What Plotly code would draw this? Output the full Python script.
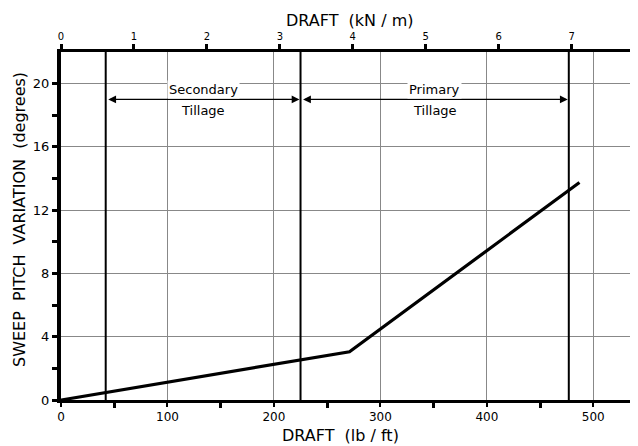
import plotly.graph_objects as go

# Data
draft_lbft = [0, 271, 487]
pitch_deg = [0, 3.05, 13.75]
boundaries_lbft = [42, 225, 477]
region_labels = [("Secondary", "Tillage"), ("Primary", "Tillage")]
x_ticks_lbft = [0, 100, 200, 300, 400, 500]
y_ticks = [0, 4, 8, 12, 16, 20]
top_ticks_kNm = [0, 1, 2, 3, 4, 5, 6, 7, 8]
LBFT_PER_KNM = 68.52

X_MAX = 542
Y_MAX = 22

FONT = "DejaVu Sans"
PAGE_MARGIN = 8  # default body margin of the html page

fig = go.Figure()

# vertical boundary lines
for b in boundaries_lbft:
    fig.add_trace(go.Scatter(x=[b, b], y=[0, Y_MAX], mode="lines",
                             line=dict(color="black", width=2),
                             showlegend=False, hoverinfo="skip"))

# data line
fig.add_trace(go.Scatter(x=draft_lbft, y=pitch_deg, mode="lines",
                         line=dict(color="black", width=3.2),
                         showlegend=False))

# dummy trace for top axis
fig.add_trace(go.Scatter(x=[0, X_MAX / LBFT_PER_KNM], y=[None, None], xaxis="x2",
                         mode="lines", showlegend=False, hoverinfo="skip"))

annotations = []
arrow_y = 19.0
for i, (t1, t2) in enumerate(region_labels):
    x0, x1 = boundaries_lbft[i], boundaries_lbft[i + 1]
    xm = (x0 + x1) / 2
    annotations.append(dict(x=x1 - 1, y=arrow_y, ax=x0 + 1, ay=arrow_y,
                            xref="x", yref="y", axref="x", ayref="y",
                            text="", showarrow=True, arrowhead=2, arrowsize=1.2,
                            arrowwidth=1.3, arrowcolor="black", arrowside="end+start"))
    annotations.append(dict(x=xm, y=19.6, xref="x", yref="y", text=t1,
                            showarrow=False, bgcolor="white",
                            font=dict(family=FONT, size=13, color="black")))
    annotations.append(dict(x=xm, y=18.3, xref="x", yref="y", text=t2,
                            showarrow=False, bgcolor="white",
                            font=dict(family=FONT, size=13, color="black")))

# axis titles
annotations.append(dict(x=0.5, y=0, xref="paper", yref="paper",
                        text="DRAFT  (lb / ft)", showarrow=False, yanchor="bottom",
                        yshift=-46, xshift=-9, borderpad=0,
                        font=dict(family=FONT, size=16, color="black")))
annotations.append(dict(x=0.5, y=1, xref="paper", yref="paper",
                        text="DRAFT  (kN / m)", showarrow=False, yanchor="middle",
                        yshift=32,
                        font=dict(family=FONT, size=16, color="black")))
annotations.append(dict(x=0, y=0.5, xref="paper", yref="paper",
                        text="SWEEP  PITCH  VARIATION  (degrees)", showarrow=False,
                        textangle=-90, xanchor="center", xshift=-42, yshift=6,
                        font=dict(family=FONT, size=16, color="black")))

fig.update_layout(
    width=638 - PAGE_MARGIN, height=446 - PAGE_MARGIN,
    margin=dict(l=61 - PAGE_MARGIN, r=0, t=52 - PAGE_MARGIN, b=46, autoexpand=False),
    plot_bgcolor="white", paper_bgcolor="white",
    showlegend=False,
    font=dict(family=FONT, color="black", size=11),
    xaxis=dict(range=[0, X_MAX], tickvals=x_ticks_lbft, showgrid=True,
               gridcolor="#888", gridwidth=1, zeroline=False, automargin=False,
               showline=True, linecolor="black", linewidth=3,
               ticks="outside", ticklen=4, tickwidth=2, tickcolor="black",
               minor=dict(tickvals=[50, 150, 250, 350, 450], ticks="outside",
                          ticklen=5, tickwidth=3, tickcolor="black", showgrid=False),
               tickfont=dict(family=FONT, size=12)),
    xaxis2=dict(range=[0, X_MAX / LBFT_PER_KNM], overlaying="x", side="top",
                tickvals=top_ticks_kNm, showgrid=False, zeroline=False, automargin=False,
                showline=True, linecolor="black", linewidth=3,
                ticks="outside", ticklen=5, tickwidth=3, tickcolor="black",
                tickfont=dict(family=FONT, size=10)),
    yaxis=dict(range=[0, Y_MAX], tickvals=y_ticks, showgrid=True,
               gridcolor="#888", gridwidth=1, zeroline=False, automargin=False,
               showline=True, linecolor="black", linewidth=4,
               ticks="outside", ticklen=5, tickwidth=3, tickcolor="black",
               minor=dict(tickvals=[2, 6, 10, 14, 18], ticks="outside",
                          ticklen=5, tickwidth=3, tickcolor="black", showgrid=False),
               tickfont=dict(family=FONT, size=13)),
    annotations=annotations,
)

fig.write_html("out.html")
